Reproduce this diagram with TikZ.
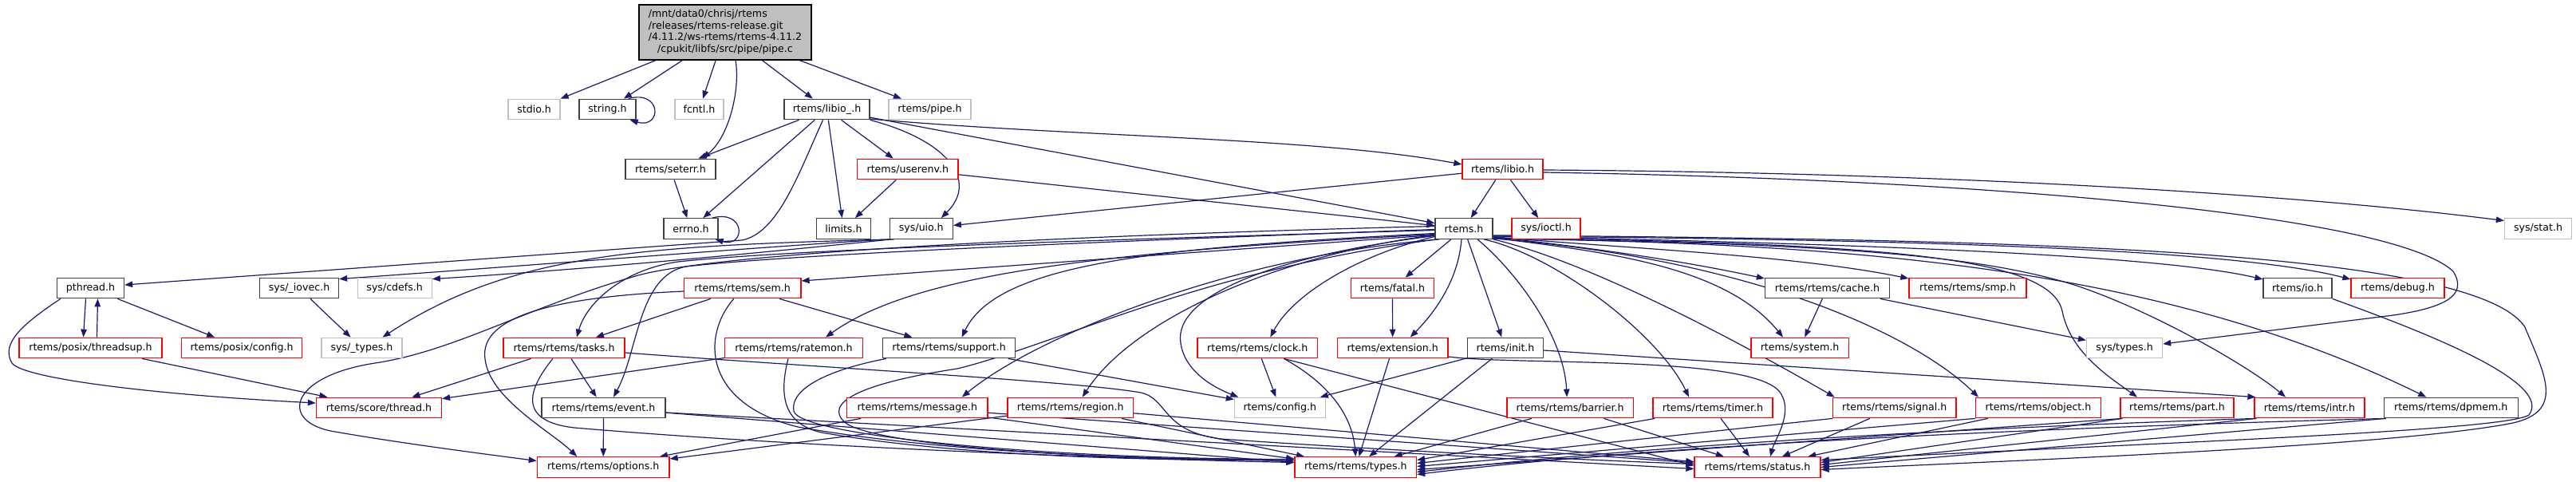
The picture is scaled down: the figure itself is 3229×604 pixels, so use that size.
\documentclass[tikz,border=0pt]{standalone}
\usepackage{fontspec}
\setmainfont{DejaVu Sans}
\usetikzlibrary{arrows.meta,calc}
\pgfdeclarelayer{bg}
\pgfsetlayers{bg,main}
\definecolor{edgec}{HTML}{191970}
\definecolor{redc}{HTML}{FF0000}
\definecolor{grayc}{HTML}{BFBFBF}
\definecolor{blkc}{HTML}{404040}
\begin{document}
\begin{tikzpicture}[x=1pt,y=1pt,
  box/.style={rectangle, draw, fill=white, line width=1.3pt, minimum height=25.5pt, inner sep=0pt, font=\fontsize{12.6}{14.7}\selectfont, text=black},
  bbox/.style={box, draw=blkc},
  rbox/.style={box, draw=redc},
  gbox/.style={box, draw=grayc},
  arr/.style={draw=edgec, line width=1.2pt, -{Triangle[length=10pt,width=7.5pt]}},
]
\path[use as bounding box] (0,0) rectangle (3229,-604);

% ---------- nodes ----------
\node[box, draw=black, fill=grayc, minimum width=216pt, minimum height=69pt] (root) at (909,-40.5)
  {\begin{tabular}{@{}l@{}}/mnt/data0/chrisj/rtems\\/releases/rtems-release.git\\/4.11.2/ws-rtems/rtems-4.11.2\\\multicolumn{1}{@{}c@{}}{/cpukit/libfs/src/pipe/pipe.c}\end{tabular}};
\node[gbox, minimum width=65pt] (stdio) at (669.5,-137) {stdio.h};
\node[bbox, minimum width=71pt] (stringh) at (761.5,-137) {string.h};
\node[gbox, minimum width=61pt] (fcntl) at (876.5,-137) {fcntl.h};
\node[bbox, minimum width=107pt] (libiou) at (1036.5,-137) {rtems/libio\_.h};
\node[gbox, minimum width=103pt] (pipe) at (1165.5,-137) {rtems/pipe.h};
\node[bbox, minimum width=113pt] (seterr) at (840.5,-212) {rtems/seterr.h};
\node[rbox, minimum width=126.5pt] (userenv) at (1137.8,-212) {rtems/userenv.h};
\node[rbox, minimum width=101pt] (libio) at (1883.5,-212) {rtems/libio.h};
\node[bbox, minimum width=68pt] (errno) at (866,-286.5) {errno.h};
\node[bbox, minimum width=68pt] (limits) at (1057.4,-286.5) {limits.h};
\node[bbox, minimum width=79pt] (uio) at (1154.8,-286.5) {sys/uio.h};
\node[bbox, minimum width=72pt] (rtemsh) at (1835,-286.5) {rtems.h};
\node[rbox, minimum width=86pt] (ioctl) at (1938,-286.5) {sys/ioctl.h};
\node[gbox, minimum width=84pt] (stat) at (3181.5,-286.5) {sys/stat.h};
\node[bbox, minimum width=84pt] (pthread) at (113.5,-361) {pthread.h};
\node[bbox, minimum width=99pt] (iovec) at (375,-361) {sys/\_iovec.h};
\node[gbox, minimum width=93pt] (cdefs) at (494.7,-361) {sys/cdefs.h};
\node[rbox, minimum width=146.5pt] (sem) at (930.7,-361) {rtems/rtems/sem.h};
\node[rbox, minimum width=104pt] (fatal) at (1745.5,-361) {rtems/fatal.h};
\node[bbox, minimum width=156pt] (cache) at (2290.5,-361) {rtems/rtems/cache.h};
\node[rbox, minimum width=147pt] (smp) at (2466.5,-361) {rtems/rtems/smp.h};
\node[bbox, minimum width=86pt] (io) at (2880,-361) {rtems/io.h};
\node[rbox, minimum width=117pt] (debug) at (3005.5,-361) {rtems/debug.h};
\node[rbox, minimum width=179pt] (threadsup) at (113.5,-436) {rtems/posix/threadsup.h};
\node[rbox, minimum width=151pt] (pconfig) at (303,-436) {rtems/posix/config.h};
\node[gbox, minimum width=101pt] (stypes) at (453.5,-436) {sys/\_types.h};
\node[rbox, minimum width=152pt] (tasks) at (707,-436) {rtems/rtems/tasks.h};
\node[rbox, minimum width=173pt] (ratemon) at (995,-436) {rtems/rtems/ratemon.h};
\node[bbox, minimum width=166.4pt] (support) at (1189.6,-436) {rtems/rtems/support.h};
\node[rbox, minimum width=150.5pt] (clock) at (1576.3,-436) {rtems/rtems/clock.h};
\node[rbox, minimum width=138.3pt] (extension) at (1745.7,-436) {rtems/extension.h};
\node[bbox, minimum width=94.4pt] (init) at (1887,-436) {rtems/init.h};
\node[rbox, minimum width=122.3pt] (system) at (2256,-436) {rtems/system.h};
\node[gbox, minimum width=95pt] (systypes) at (2663,-436) {sys/types.h};
\node[rbox, minimum width=157pt] (scthread) at (475,-511) {rtems/score/thread.h};
\node[bbox, minimum width=155pt] (event) at (756.5,-511) {rtems/rtems/event.h};
\node[rbox, minimum width=176.5pt] (message) at (1149.8,-511) {rtems/rtems/message.h};
\node[rbox, minimum width=157.5pt] (region) at (1341.7,-511) {rtems/rtems/region.h};
\node[gbox, minimum width=113.7pt] (config) at (1604.3,-511) {rtems/config.h};
\node[rbox, minimum width=158.7pt] (barrier) at (1968.2,-511) {rtems/rtems/barrier.h};
\node[rbox, minimum width=150pt] (timer) at (2147,-511) {rtems/rtems/timer.h};
\node[rbox, minimum width=154.6pt] (signal) at (2374.7,-511) {rtems/rtems/signal.h};
\node[rbox, minimum width=157pt] (object) at (2555,-511) {rtems/rtems/object.h};
\node[rbox, minimum width=142pt] (part) at (2729,-511) {rtems/rtems/part.h};
\node[rbox, minimum width=138pt] (intr) at (2895,-511) {rtems/rtems/intr.h};
\node[bbox, minimum width=168pt] (dpmem) at (3072.3,-511) {rtems/rtems/dpmem.h};
\node[rbox, minimum width=165.7pt] (options) at (756.2,-585.5) {rtems/rtems/options.h};
\node[rbox, minimum width=152.5pt] (types) at (1699.3,-585.5) {rtems/rtems/types.h};
\node[rbox, minimum width=158pt] (status) at (2203,-585.5) {rtems/rtems/status.h};

% ---------- edges ----------
\begin{pgfonlayer}{bg}
% root
\draw[arr] (root) -- (stdio);
\draw[arr] (root) -- (stringh);
\draw[arr] (root) -- (fcntl);
\draw[arr] ([xshift=13pt]root.south) .. controls (928,-110) and (915,-170) .. ([xshift=40pt]seterr.north);
\draw[arr] (root) -- (libiou);
\draw[arr] (root) -- (pipe);
\draw[arr] ([xshift=-10pt]stringh.north east) .. controls (830,-112) and (830,-162) .. ([xshift=-8pt]stringh.south east);
\draw[arr] ([xshift=-8pt]errno.north east) .. controls (935,-262) and (935,-311) .. ([xshift=-4pt]errno.south east);
\draw[arr] (seterr) -- (errno);
% libio_
\draw[arr] (libiou) -- (seterr);
\draw[arr] (libiou) -- (errno);
\draw[arr] ([xshift=-5pt]libiou.south) .. controls (1000,-220) and (975,-292) .. (930,-301) -- ([yshift=4pt]pthread.east);
\draw[arr] (libiou) -- (limits);
\draw[arr] (libiou) -- (userenv);
\draw[arr] (libiou.south east) .. controls (1185,-175) and (1228,-225) .. ([xshift=25pt]uio.north);
\draw[arr] (libiou) -- (rtemsh);
\draw[arr] ([yshift=-12pt]libiou.east) .. controls (1350,-172) and (1650,-172) .. ([yshift=6pt]libio.west);
% userenv
\draw[arr] (userenv) -- (limits);
\draw[arr] (userenv) -- (rtemsh);
% libio.h
\draw[arr] (libio) -- (rtemsh);
\draw[arr] (libio) -- (ioctl);
\draw[arr] (libio) -- (uio);
\draw[arr] ([yshift=-1pt]libio.east) .. controls (2400,-216) and (2850,-240) .. ([yshift=10pt]stat.west);
\draw[arr] ([yshift=-4pt]libio.east) .. controls (2500,-225) and (3000,-270) .. (3075,-340) .. controls (3095,-372) and (3060,-386) .. (3000,-395) -- ([yshift=5pt]systypes.east);
% sys/uio.h
\draw[arr] (uio.south west) .. controls (1000,-306) and (700,-330) .. ([yshift=-2pt]iovec.north east);
\draw[arr] ([xshift=3pt]uio.south west) .. controls (1000,-312) and (760,-336) .. ([yshift=-2pt]cdefs.north east);
\draw[arr] ([xshift=6pt]uio.south west) .. controls (800,-308) and (640,-318) .. ([xshift=26pt]stypes.north);
\draw[arr] (iovec) -- (stypes);
% pthread
\draw[arr] ([xshift=-6pt]pthread.south) -- ([xshift=-9pt]threadsup.north);
\draw[arr] ([xshift=8pt]threadsup.north) -- ([xshift=9pt]pthread.south);
\draw[arr] (pthread) -- (pconfig);
\draw[arr] ([xshift=5pt]pthread.south west) .. controls (30,-405) and (0,-430) .. (15,-455) .. controls (30,-475) and (200,-495) .. ([yshift=6pt]scthread.west);
\draw[arr] (threadsup) -- (scthread);
\draw[arr] (tasks) -- (scthread);
\draw[arr] (ratemon) -- (scthread);
% rtems.h to the left
\draw[arr] ([yshift=3pt]rtemsh.west) .. controls (1300,-296) and (900,-318) .. (800,-345) .. controls (660,-385) and (570,-440) .. (470,-455) .. controls (360,-472) and (350,-530) .. (420,-541) .. controls (500,-555) and (600,-568) .. ([yshift=8pt]options.west);
\draw[arr] ([yshift=-8pt]rtemsh.west) -- ([yshift=9pt]sem.east);
\draw[arr] ([yshift=-2pt]rtemsh.west) .. controls (1400,-300) and (1000,-312) .. (850,-328) .. controls (780,-338) and (735,-380) .. ([xshift=16pt]tasks.north);
\draw[arr] ([yshift=-1pt]rtemsh.west) .. controls (1400,-302) and (1000,-318) .. (860,-334) .. controls (800,-345) and (800,-440) .. ([xshift=12.5pt]event.north);
\draw[arr] ([yshift=-7pt]rtemsh.west) .. controls (1400,-315) and (1150,-340) .. ([xshift=40pt]ratemon.north);
\draw[arr] ([yshift=-6pt]rtemsh.west) .. controls (1450,-310) and (1250,-330) .. ([xshift=16pt]support.north);
\draw[arr] ([xshift=6pt]rtemsh.south west) .. controls (1550,-320) and (1300,-420) .. ([xshift=56pt]message.north);
\draw[arr] ([yshift=-8pt]rtemsh.west) .. controls (1600,-320) and (1420,-400) .. ([xshift=15pt]region.north);
\draw[arr] ([yshift=-9pt]rtemsh.west) .. controls (1600,-320) and (1470,-370) .. (1480,-430) .. controls (1485,-465) and (1520,-485) .. ([xshift=-52pt]config.north);
\draw[arr] ([yshift=-10pt]rtemsh.west) .. controls (1700,-320) and (1620,-370) .. ([xshift=16pt]clock.north);
\draw[arr] ([xshift=3pt]rtemsh.south west) .. controls (1500,-340) and (1330,-430) .. (1200,-462) .. controls (1080,-480) and (1030,-505) .. (1060,-530) .. controls (1100,-560) and (1400,-578) .. ([yshift=10pt]types.west);
% rtems.h below
\draw[arr] (rtemsh) -- (fatal);
\draw[arr] ([xshift=-3pt]rtemsh.south) .. controls (1828,-350) and (1800,-390) .. ([xshift=22pt]extension.north);
\draw[arr] (fatal) -- (extension);
\draw[arr] (rtemsh) -- (init);
\draw[arr] ([xshift=17pt]rtemsh.south) .. controls (1900,-340) and (1960,-420) .. ([xshift=-4pt]barrier.north);
\draw[arr] ([xshift=25pt]rtemsh.south) .. controls (1950,-320) and (2080,-420) .. ([xshift=-30pt]timer.north);
% rtems.h to the right
\draw[arr] (rtemsh.south east) .. controls (2000,-330) and (2200,-440) .. ([xshift=-75pt]signal.north);
\draw[arr] ([yshift=2pt]rtemsh.south east) .. controls (2000,-315) and (2160,-330) .. ([xshift=-21pt]system.north);
\draw[arr] ([yshift=3pt]rtemsh.south east) .. controls (1990,-310) and (2100,-325) .. ([yshift=12pt]cache.west);
\draw[arr] ([yshift=3pt]rtemsh.south east) .. controls (2050,-312) and (2250,-320) .. ([yshift=12pt]smp.west);
\draw[arr] ([yshift=4pt]rtemsh.south east) .. controls (2300,-305) and (2700,-318) .. ([yshift=11pt]io.west);
\draw[arr] ([yshift=4pt]rtemsh.south east) .. controls (2400,-300) and (2800,-312) .. ([yshift=11pt]debug.west);
\draw[arr] ([yshift=1pt]rtemsh.south east) .. controls (2200,-325) and (2400,-420) .. ([xshift=-75pt]object.north);
\draw[arr] ([yshift=2pt]rtemsh.south east) .. controls (2350,-305) and (2570,-320) .. (2585,-390) .. controls (2595,-440) and (2640,-470) .. ([xshift=-50pt]part.north);
\draw[arr] ([yshift=1pt]rtemsh.south east) .. controls (2300,-305) and (2480,-320) .. (2600,-357) .. controls (2700,-390) and (2820,-460) .. ([xshift=-30pt]intr.north);
\draw[arr] ([yshift=1pt]rtemsh.south east) .. controls (2300,-305) and (2700,-330) .. ([xshift=-31pt]dpmem.north);
\draw[arr] ([yshift=5pt]rtemsh.south east) .. controls (2500,-300) and (3100,-310) .. (3165,-410) .. controls (3190,-470) and (3215,-515) .. (3150,-530) .. controls (3000,-560) and (2500,-578) .. ([yshift=-3pt]status.east);
% sem
\draw[arr] ([yshift=-4pt]sem.west) .. controls (700,-372) and (600,-395) .. (608,-450) .. controls (614,-500) and (690,-540) .. ([xshift=-33pt]options.north);
\draw[arr] (sem) -- (tasks);
\draw[arr] (sem) -- (support);
\draw[arr] ([xshift=-11pt]sem.south) .. controls (880,-420) and (880,-505) .. (1000,-535) .. controls (1200,-570) and (1450,-575) .. ([yshift=8pt]types.west);
% tasks
\draw[arr] (tasks) -- (event);
\draw[arr] ([xshift=-14pt]tasks.south) .. controls (660,-490) and (650,-528) .. (720,-536) .. controls (1000,-560) and (1400,-575) .. ([yshift=6pt]types.west);
\draw[arr] ([yshift=-6pt]tasks.east) .. controls (1050,-462) and (1350,-478) .. (1430,-492) .. controls (1465,-500) and (1455,-540) .. (1530,-550) .. controls (1700,-562) and (1950,-575) .. ([yshift=4pt]status.west);
% event, message, region
\draw[arr] (event) -- (options);
\draw[arr] (event) -- (types);
\draw[arr] ([yshift=-6pt]event.east) -- ([yshift=-2pt]status.west);
\draw[arr] (message) -- (options);
\draw[arr] (region) -- (options);
\draw[arr] (message) -- (types);
\draw[arr] (message) -- (status);
\draw[arr] (region) -- (types);
\draw[arr] (region) -- (status);
% ratemon, support
\draw[arr] ([xshift=-7pt]ratemon.south) .. controls (975,-500) and (985,-532) .. (1030,-542) .. controls (1200,-572) and (1450,-578) .. ([yshift=10pt]types.west);
\draw[arr] ([xshift=5pt]support.south west) .. controls (1030,-465) and (990,-490) .. (995,-515) .. controls (1000,-545) and (1300,-575) .. ([yshift=10pt]types.west);
\draw[arr] (support) -- (config);
% clock, extension, init, barrier
\draw[arr] (clock) -- (config);
\draw[arr] ([xshift=33pt]clock.south) .. controls (1665,-480) and (1695,-520) .. (types.north);
\draw[arr] ([xshift=33pt]clock.south) -- ([yshift=2pt]status.west);
\draw[arr] (extension) -- (types);
\draw[arr] ([yshift=-11pt]extension.east) .. controls (1900,-458) and (2190,-445) .. (2230,-490) .. controls (2250,-515) and (2225,-550) .. ([xshift=16pt]status.north);
\draw[arr] (init) -- (types);
\draw[arr] (init) -- (config);
\draw[arr] ([yshift=-3pt]init.east) -- ([xshift=2pt]intr.north west);
\draw[arr] (barrier) -- (types);
\draw[arr] (barrier) -- (status);
% cache, io
\draw[arr] (cache) -- (system);
\draw[arr] (cache) -- (systypes);
\draw[arr] (io.south east) .. controls (3050,-420) and (3200,-480) .. (3170,-520) .. controls (3140,-540) and (2700,-555) .. ([yshift=9pt]status.east);
% lower right row
\draw[arr] ([xshift=3pt]timer.south west) -- ([yshift=9pt]types.east);
\draw[arr] (timer) -- (status);
\draw[arr] (signal.south west) -- ([yshift=5pt]types.east);
\draw[arr] (signal) -- (status);
\draw[arr] (object.south west) -- ([yshift=1pt]types.east);
\draw[arr] (object) -- (status);
\draw[arr] ([xshift=3pt]part.south west) -- ([yshift=-3pt]types.east);
\draw[arr] ([xshift=3pt]part.south west) -- ([yshift=6pt]status.east);
\draw[arr] ([xshift=3pt]intr.south west) .. controls (2500,-535) and (2100,-555) .. ([yshift=-6pt]types.east);
\draw[arr] ([xshift=3pt]intr.south west) -- ([yshift=3pt]status.east);
\draw[arr] ([xshift=3pt]dpmem.south west) .. controls (2600,-535) and (2100,-555) .. ([yshift=-9pt]types.east);
\draw[arr] ([xshift=3pt]dpmem.south west) -- (status.east);
\end{pgfonlayer}
\end{tikzpicture}
\end{document}
